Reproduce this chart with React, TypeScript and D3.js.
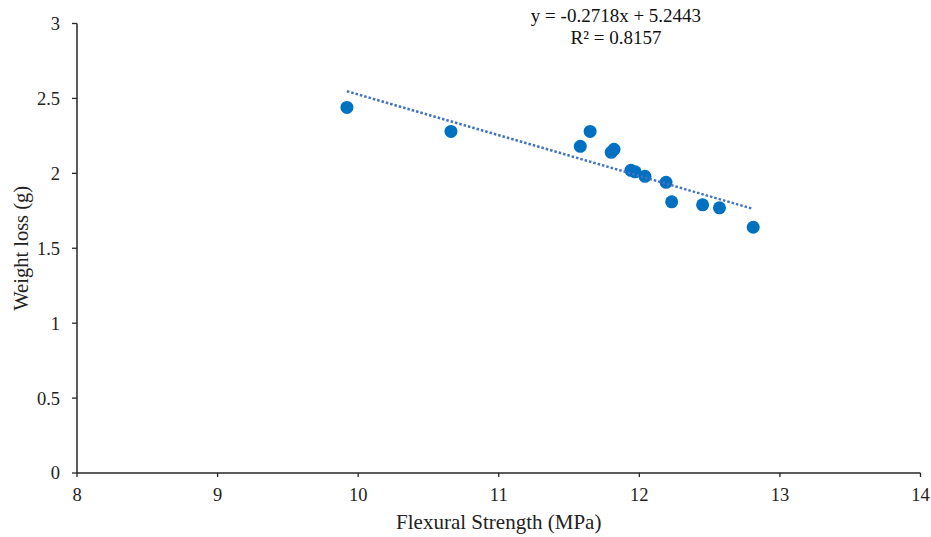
import React from "react";
import * as d3 from "d3";

const strength = [9.92, 10.66, 11.58, 11.65, 11.82, 11.80, 11.94, 11.97, 12.04, 12.19, 12.23, 12.45, 12.57, 12.81];
const weightLoss = [2.44, 2.28, 2.18, 2.28, 2.16, 2.14, 2.02, 2.01, 1.98, 1.94, 1.81, 1.79, 1.77, 1.64];
const xTicks = [8, 9, 10, 11, 12, 13, 14];
const yTicks = [0, 0.5, 1, 1.5, 2, 2.5, 3];
const slope = -0.2718;
const intercept = 5.2443;
const eqText = "y = -0.2718x + 5.2443";
const r2Text = "R² = 0.8157";

const W = 931, H = 537;
const left = 77, right = 920.5, top = 23.5, bottom = 473;
const font = "'Liberation Serif', 'Times New Roman', serif";

export default function App() {
  const x = d3.scaleLinear().domain([8, 14]).range([left, right]);
  const y = d3.scaleLinear().domain([0, 3]).range([bottom, top]);
  const xMin = d3.min(strength)!, xMax = d3.max(strength)!;
  const line = d3.line<number>().x(v => x(v)).y(v => y(slope * v + intercept));
  return (
    <svg width={W} height={H} style={{ position: "absolute", left: 0, top: 0, background: "#fff" }}>
      <rect width={W} height={H} fill="#fff" />
      <line x1={left} x2={left} y1={top} y2={bottom} stroke="#262626" strokeWidth={1.5} />
      <line x1={left} x2={right} y1={bottom} y2={bottom} stroke="#262626" strokeWidth={1.5} />
      {yTicks.map(t => (
        <g key={"y" + t}>
          <line x1={left - 5} x2={left} y1={y(t)} y2={y(t)} stroke="#262626" strokeWidth={1.3} />
          <text x={left - 17} y={y(t)} dy="0.35em" textAnchor="end" fontFamily={font} fontSize={18.5} fill="#222">{t}</text>
        </g>
      ))}
      {xTicks.map(t => (
        <g key={"x" + t}>
          <line x1={x(t)} x2={x(t)} y1={bottom} y2={bottom + 4} stroke="#262626" strokeWidth={1.3} />
          <text x={x(t)} y={bottom + 28} textAnchor="middle" fontFamily={font} fontSize={18.5} fill="#222">{t}</text>
        </g>
      ))}
      {strength.map((s, i) => (
        <circle key={i} cx={x(s)} cy={y(weightLoss[i])} r={6.5} fill="#0070C0" />
      ))}
      <path d={line([xMin, xMax])!} fill="none" stroke="#4472C4" strokeWidth={2.5} strokeDasharray="2.5 2" />
      <text x={616} y={22} textAnchor="middle" fontFamily={font} fontSize={19} fill="#111">{eqText}</text>
      <text x={616} y={44} textAnchor="middle" fontFamily={font} fontSize={19} fill="#111">{r2Text}</text>
      <text x={(left + right) / 2} y={529} textAnchor="middle" fontFamily={font} fontSize={21} fill="#222">Flexural Strength (MPa)</text>
      <text transform={`translate(28,${(top + bottom) / 2}) rotate(-90)`} textAnchor="middle" fontFamily={font} fontSize={20.5} fill="#222">Weight loss (g)</text>
    </svg>
  );
}
